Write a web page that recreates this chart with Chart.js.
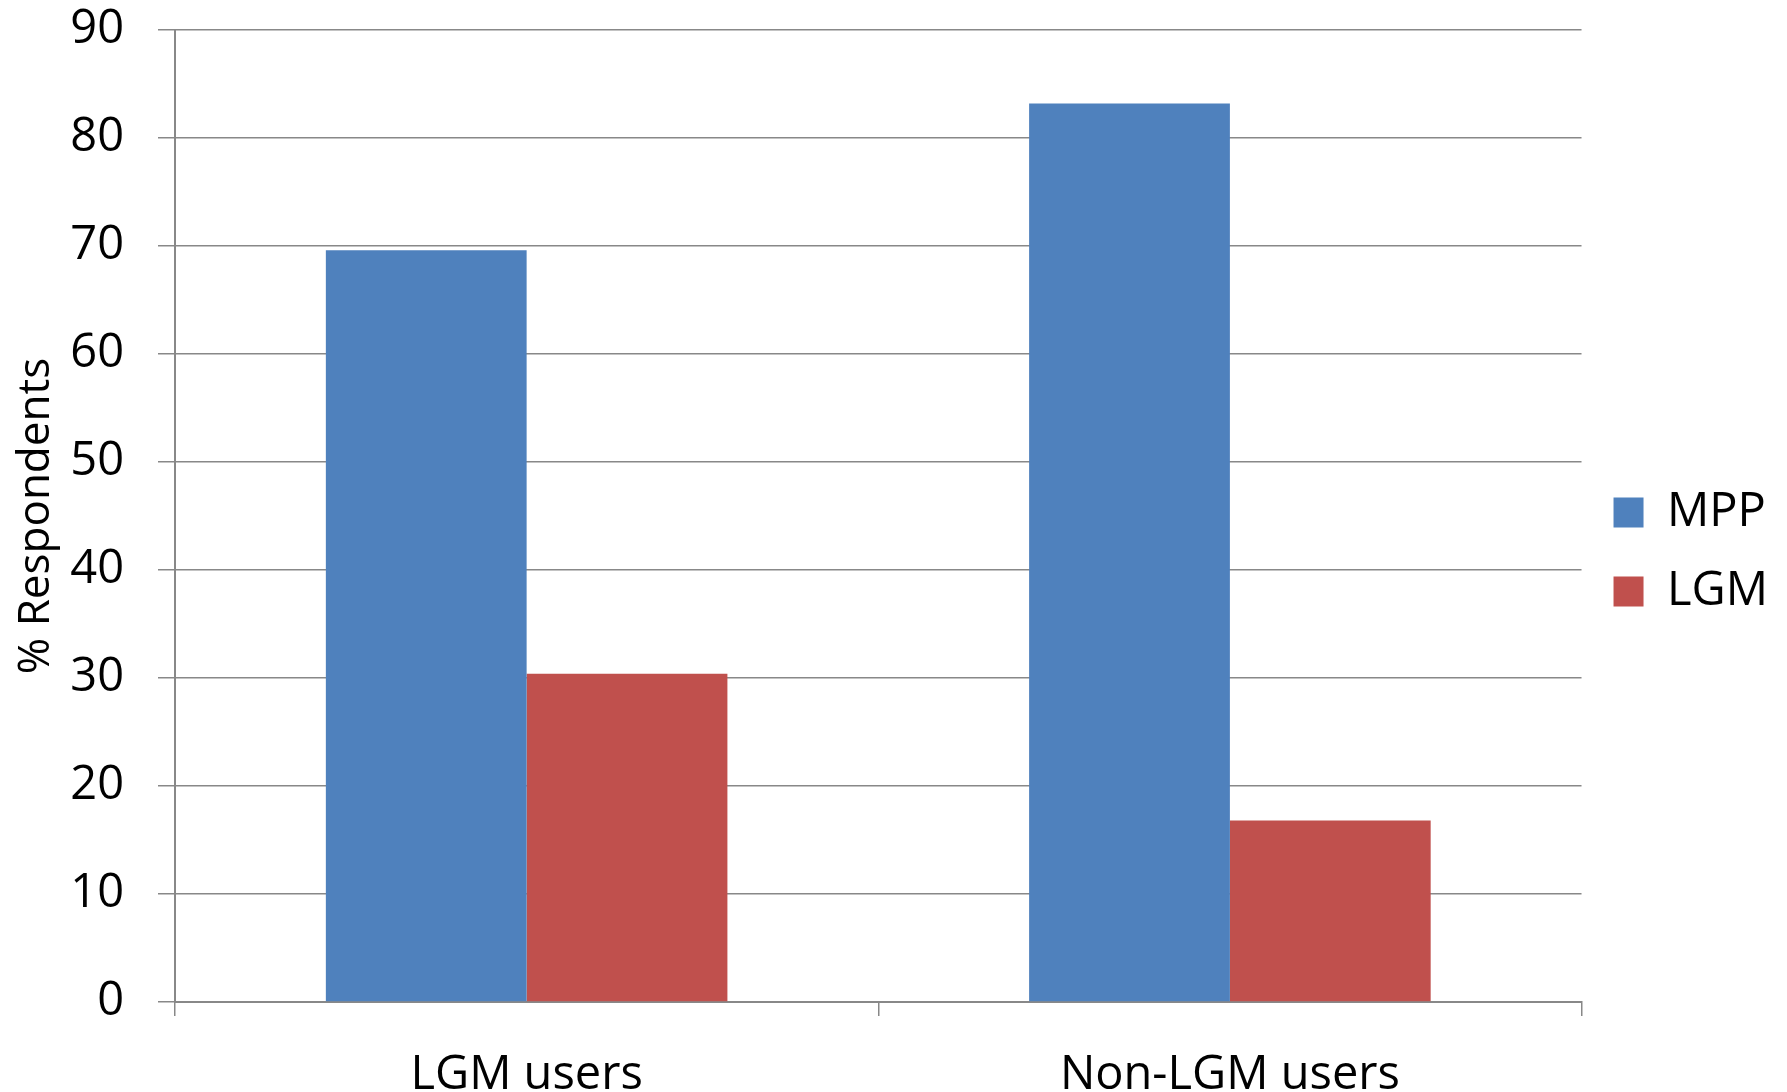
<!DOCTYPE html>
<html>
<head>
<meta charset="utf-8">
<script src="https://cdn.jsdelivr.net/npm/chart.js@4"></script>
<style>
    html, body { margin: 0; padding: 0; background: #ffffff; }
    #wrap { width: 1787px; height: 1092px; }
</style>
</head>
<body>
<div id="wrap"><canvas id="chart"></canvas></div>
<script>
const categories = ["LGM users", "Non-LGM users"];
const seriesNames = ["MPP", "LGM"];
const mppValues = [69.6, 83.2];
const lgmValues = [30.4, 16.8];
const yMin = 0;
const yMax = 90;
const yStep = 10;

const gridColor = "#888888";
const font = "'Open Sans', 'DejaVu Sans', sans-serif";

document.addEventListener("DOMContentLoaded", () => {
    const ctx = document.getElementById("chart").getContext("2d");

    new Chart(ctx, {
        type: "bar",
        data: {
            labels: categories,
            datasets: [
                { label: seriesNames[0], data: mppValues, backgroundColor: "#4F81BD" },
                { label: seriesNames[1], data: lgmValues, backgroundColor: "#C0504D" }
            ]
        },
        options: {
            responsive: true,
            maintainAspectRatio: false,
            animation: false,
            categoryPercentage: 0.571,
            barPercentage: 1.0,
            layout: { padding: { top: 12, right: 9, bottom: 0, left: 0 } },
            plugins: {
                legend: {
                    position: "right",
                    labels: {
                        boxWidth: 30,
                        boxHeight: 30,
                        padding: 32,
                        color: "#000000",
                        font: { family: font, size: 47 }
                    }
                },
                tooltip: { enabled: false }
            },
            scales: {
                x: {
                    grid: {
                        offset: true,
                        drawOnChartArea: false,
                        color: gridColor,
                        lineWidth: 1.5,
                        tickLength: 14
                    },
                    border: { color: gridColor, width: 2 },
                    ticks: {
                        color: "#000000",
                        padding: 31,
                        font: { family: font, size: 47 }
                    },
                    afterFit: (scale) => { scale.height = 90; }
                },
                y: {
                    min: yMin,
                    max: yMax,
                    grid: {
                        color: gridColor,
                        lineWidth: 1.5,
                        tickLength: 17
                    },
                    border: { color: gridColor, width: 2 },
                    ticks: {
                        stepSize: yStep,
                        color: "#000000",
                        padding: 34,
                        font: { family: font, size: 47 }
                    },
                    title: {
                        display: true,
                        text: "% Respondents",
                        color: "#000000",
                        padding: { top: 10, bottom: 4 },
                        font: { family: font, size: 44 }
                    },
                    afterFit: (scale) => {
                        scale.width = 175;
                        scale.paddingTop = 30;
                    }
                }
            }
        }
    });
});
</script>
</body>
</html>
